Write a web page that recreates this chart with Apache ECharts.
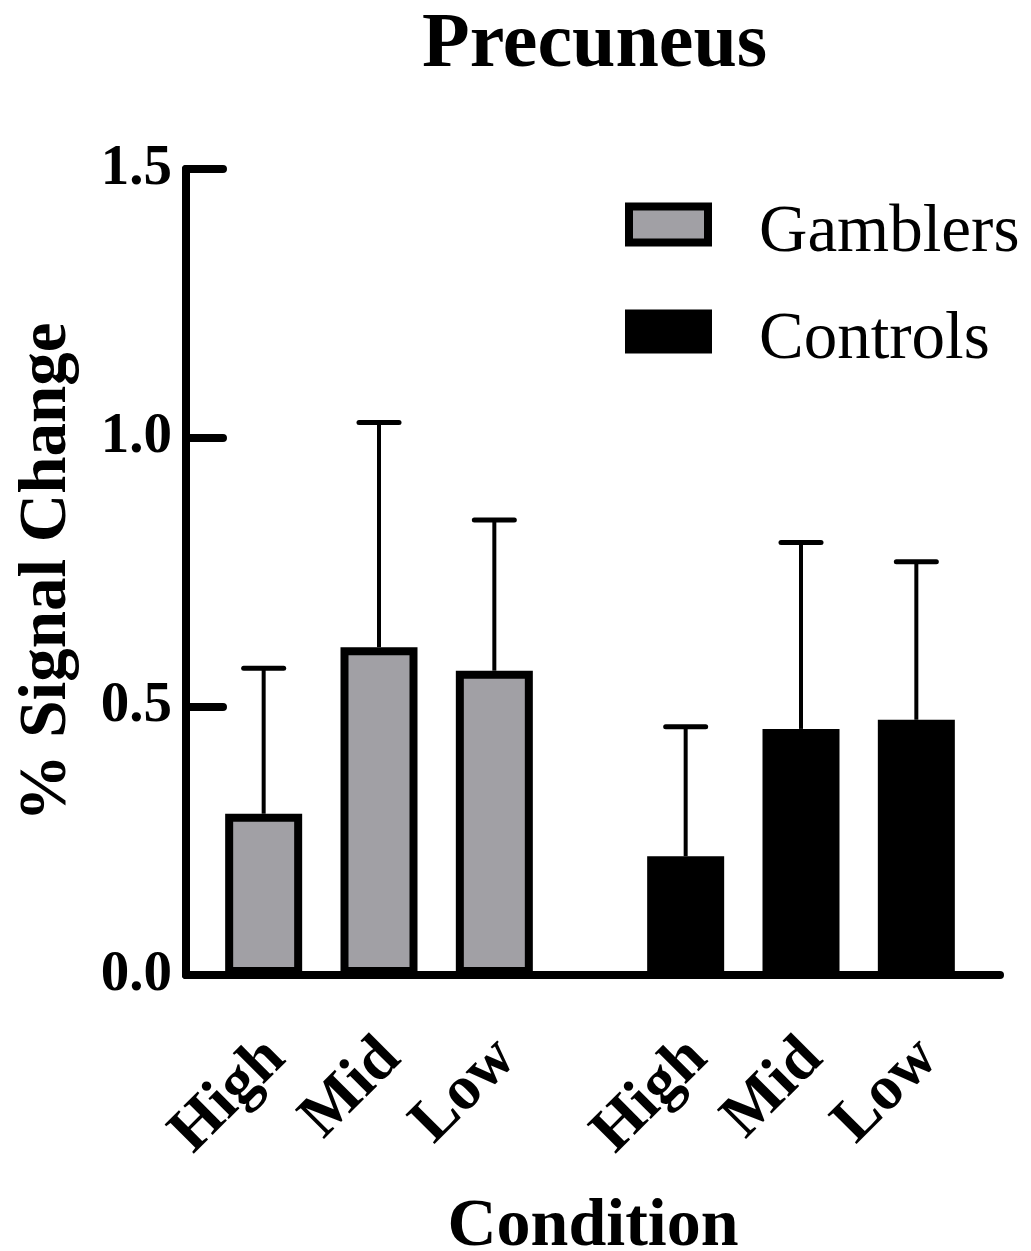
<!DOCTYPE html>
<html>
<head>
<meta charset="utf-8">
<script src="https://cdn.jsdelivr.net/npm/echarts@6/dist/echarts.min.js"></script>
<style>
html,body{margin:0;padding:0;background:#fff;}
#chart{width:1031px;height:1251px;}
</style>
</head>
<body>
<div id="chart"></div>
<script>
// ---- data ----
const conditions = ["High", "Mid", "Low"];
const gamblersMean = [0.300, 0.610, 0.566];
const gamblersErr = [0.271, 0.418, 0.281];
const controlsMean = [0.221, 0.458, 0.475];
const controlsErr = [0.241, 0.347, 0.294];
const yTicks = [0, 0.5, 1.0, 1.5];

const FONT = "'Liberation Serif', 'Times New Roman', serif";
const GRAY = '#a1a0a5';

const chart = echarts.init(document.getElementById('chart'), null, {renderer: 'canvas'});

function errData(mean, err) {
  return mean.map((m, i) => [i, m, m + err[i]]);
}
function renderErr(params, api) {
  const x = api.value(0);
  const lo = api.coord([x, api.value(1)]);
  const hi = api.coord([x, api.value(2)]);
  const half = 20;
  return {
    type: 'group',
    children: [
      {type: 'line', shape: {x1: lo[0], y1: lo[1], x2: hi[0], y2: hi[1]}, style: {stroke: '#000', lineWidth: 4}},
      {type: 'line', shape: {x1: hi[0] - half, y1: hi[1], x2: hi[0] + half, y2: hi[1]}, style: {stroke: '#000', lineWidth: 5, lineCap: 'round'}}
    ]
  };
}

const yMax = yTicks[yTicks.length - 1];
const hiddenY = (gi) => ({type: 'value', gridIndex: gi, min: 0, max: yMax, show: false});
const catX = (gi) => ({
  type: 'category', gridIndex: gi, data: conditions,
  axisLine: {show: false}, axisTick: {show: false},
  axisLabel: {interval: 0, rotate: 45, margin: 62,
              formatter: (v) => '{c|' + v + '}',
              rich: {c: {padding: [34, 0, 0, 0], fontFamily: FONT, fontWeight: 'bold', fontSize: 63, color: '#000'}},
              fontFamily: FONT, fontWeight: 'bold', fontSize: 63, color: '#000'}
});

const gridBase = {top: 169, bottom: 276, outerBoundsMode: 'none', containLabel: false};

const option = {
  backgroundColor: '#fff',
  animation: false,
  title: {
    text: 'Precuneus', left: 422, top: 7, padding: 0,
    textStyle: {fontFamily: FONT, fontWeight: 'bold', fontSize: 78, color: '#000'}
  },
  legend: {
    orient: 'vertical', left: 625, top: 200, itemGap: 40, padding: 0,
    itemWidth: 79, itemHeight: 36,
    formatter: (name) => '{t|' + name + '}',
    textStyle: {fontFamily: FONT, fontSize: 67, color: '#000',
                rich: {t: {padding: [18, 0, 0, 46], fontFamily: FONT, fontSize: 67, color: '#000'}}},
    data: [
      {name: 'Gamblers', icon: 'rect', itemStyle: {color: GRAY, borderColor: '#000', borderWidth: 8}},
      {name: 'Controls', icon: 'rect', itemStyle: {color: '#000', borderColor: '#000', borderWidth: 8}}
    ]
  },
  grid: [
    Object.assign({left: 186, right: 31}, gridBase),
    Object.assign({left: 206, width: 346}, gridBase),
    Object.assign({left: 628, width: 346}, gridBase)
  ],
  xAxis: [
    {type: 'value', gridIndex: 0, min: 0, max: 1, splitLine: {show: false},
     axisLine: {show: true, lineStyle: {color: '#000', width: 8, cap: 'round'}},
     axisTick: {show: false}, axisLabel: {show: false},
     name: 'Condition', nameLocation: 'middle', nameGap: 218,
     nameTextStyle: {fontFamily: FONT, fontWeight: 'bold', fontSize: 68, color: '#000'}},
    catX(1), catX(2)
  ],
  yAxis: [
    {type: 'value', gridIndex: 0, min: 0, max: yMax, interval: 0.5, splitLine: {show: false},
     axisLine: {show: true, lineStyle: {color: '#000', width: 8, cap: 'round'}},
     axisTick: {show: true, inside: true, length: 37, lineStyle: {color: '#000', width: 8, cap: 'round'}},
     axisLabel: {margin: 14, fontFamily: FONT, fontWeight: 'bold', fontSize: 57, color: '#000',
                 formatter: (v) => v.toFixed(1)},
     name: '% Signal Change', nameLocation: 'middle', nameRotate: 90, nameGap: 105,
     nameTextStyle: {fontFamily: FONT, fontWeight: 'bold', fontSize: 67, color: '#000'}},
    hiddenY(1), hiddenY(2)
  ],
  series: [
    {name: 'Gamblers', type: 'bar', xAxisIndex: 1, yAxisIndex: 1, data: gamblersMean, barWidth: 77, z: 3,
     itemStyle: {color: GRAY, borderColor: '#000', borderWidth: 8}},
    {name: 'GamblersErr', type: 'custom', xAxisIndex: 1, yAxisIndex: 1, data: errData(gamblersMean, gamblersErr),
     renderItem: renderErr, z: 2},
    {name: 'Controls', type: 'bar', xAxisIndex: 2, yAxisIndex: 2, data: controlsMean, barWidth: 77, z: 3,
     itemStyle: {color: '#000', borderColor: '#000', borderWidth: 8}},
    {name: 'ControlsErr', type: 'custom', xAxisIndex: 2, yAxisIndex: 2, data: errData(controlsMean, controlsErr),
     renderItem: renderErr, z: 2}
  ]
};
chart.setOption(option);
</script>
</body>
</html>
